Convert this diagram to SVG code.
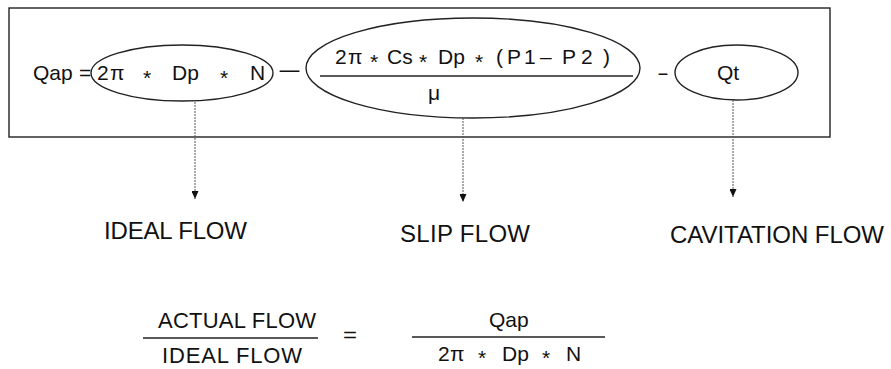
<svg xmlns="http://www.w3.org/2000/svg" width="891" height="369" viewBox="0 0 891 369">
<style>
  .t { font-family: "Liberation Sans", Arial, sans-serif; fill: #111; }
  .eq { font-size: 21px; }
  .lbl { font-size: 24px; }
  .bot { font-size: 22px; }
  .shape { fill: none; stroke: #222; stroke-width: 1.4; }
  .conn { stroke: #555; stroke-width: 1; stroke-dasharray: 2 1; fill: none; }
  .rule { stroke: #222; stroke-width: 1.3; }
</style>
<defs>
  <marker id="arr" markerUnits="userSpaceOnUse" markerWidth="8" markerHeight="7" refX="8" refY="3.5" orient="auto">
    <path d="M0,0 L8,3.5 L0,7 z" fill="#111"/>
  </marker>
</defs>
<rect width="891" height="369" fill="#fff"/>

<g id="equation-box">
  <rect class="shape" x="9" y="8" width="821" height="129" stroke-width="1.6"/>
  <text class="t eq" y="80"><tspan x="33">Qap</tspan> <tspan x="79">=</tspan></text>
  <text class="t eq" x="276" y="77" textLength="27" lengthAdjust="spacingAndGlyphs">-</text>
  <text class="t eq" x="657" y="80" textLength="12" lengthAdjust="spacingAndGlyphs">-</text>
</g>

<g id="node-ideal">
  <ellipse class="shape" cx="182" cy="73" rx="91" ry="28"/>
  <text class="t eq" y="80"><tspan x="97">2</tspan><tspan x="110">π</tspan> <tspan x="143" dy="5">*</tspan> <tspan x="172" dy="-5">Dp</tspan> <tspan x="220" dy="5">*</tspan> <tspan x="250" dy="-5">N</tspan></text>
</g>

<g id="node-slip">
  <ellipse class="shape" cx="473" cy="68" rx="167" ry="50"/>
  <text class="t eq" y="64"><tspan x="335">2</tspan><tspan x="348">π</tspan> <tspan x="370" dy="5">*</tspan> <tspan x="387" dy="-5">Cs</tspan> <tspan x="419" dy="5">*</tspan> <tspan x="438" dy="-5">Dp</tspan> <tspan x="475" dy="5">*</tspan> <tspan x="496 507 524 540 562 581 603" dy="-5">(P1–P2)</tspan></text>
  <line class="rule" x1="320" y1="76" x2="633" y2="76"/>
  <text class="t eq" x="434" y="100" text-anchor="middle">μ</text>
</g>

<g id="node-cavitation">
  <ellipse class="shape" cx="736.5" cy="72.5" rx="61.5" ry="27.5"/>
  <text class="t eq" x="717" y="80">Qt</text>
</g>

<g id="connectors">
  <line class="conn" x1="195" y1="102" x2="195" y2="199" marker-end="url(#arr)"/>
  <line class="conn" x1="463" y1="118" x2="463" y2="202" marker-end="url(#arr)"/>
  <line class="conn" x1="733" y1="100" x2="733" y2="197" marker-end="url(#arr)"/>
</g>

<g id="label-ideal">
  <text class="t lbl" x="104" y="239" textLength="143" lengthAdjust="spacing">IDEAL FLOW</text>
</g>
<g id="label-slip">
  <text class="t lbl" x="400" y="242" textLength="130" lengthAdjust="spacing">SLIP FLOW</text>
</g>
<g id="label-cavitation">
  <text class="t lbl" x="670" y="243" textLength="214" lengthAdjust="spacing">CAVITATION FLOW</text>
</g>

<g id="ratio-equation">
  <text class="t bot" x="158" y="328" textLength="158" lengthAdjust="spacing">ACTUAL FLOW</text>
  <line class="rule" x1="143" y1="338" x2="318" y2="338"/>
  <text class="t bot" x="162" y="363" textLength="140" lengthAdjust="spacing">IDEAL FLOW</text>
  <text class="t eq" x="343" y="342" textLength="14" lengthAdjust="spacingAndGlyphs">=</text>
  <text class="t eq" x="489" y="327">Qap</text>
  <line class="rule" x1="412" y1="337" x2="605" y2="337"/>
  <text class="t eq" y="361"><tspan x="438">2</tspan><tspan x="450">π</tspan> <tspan x="478" dy="4">*</tspan> <tspan x="502" dy="-4">Dp</tspan> <tspan x="542" dy="4">*</tspan> <tspan x="566" dy="-4">N</tspan></text>
</g>
</svg>
